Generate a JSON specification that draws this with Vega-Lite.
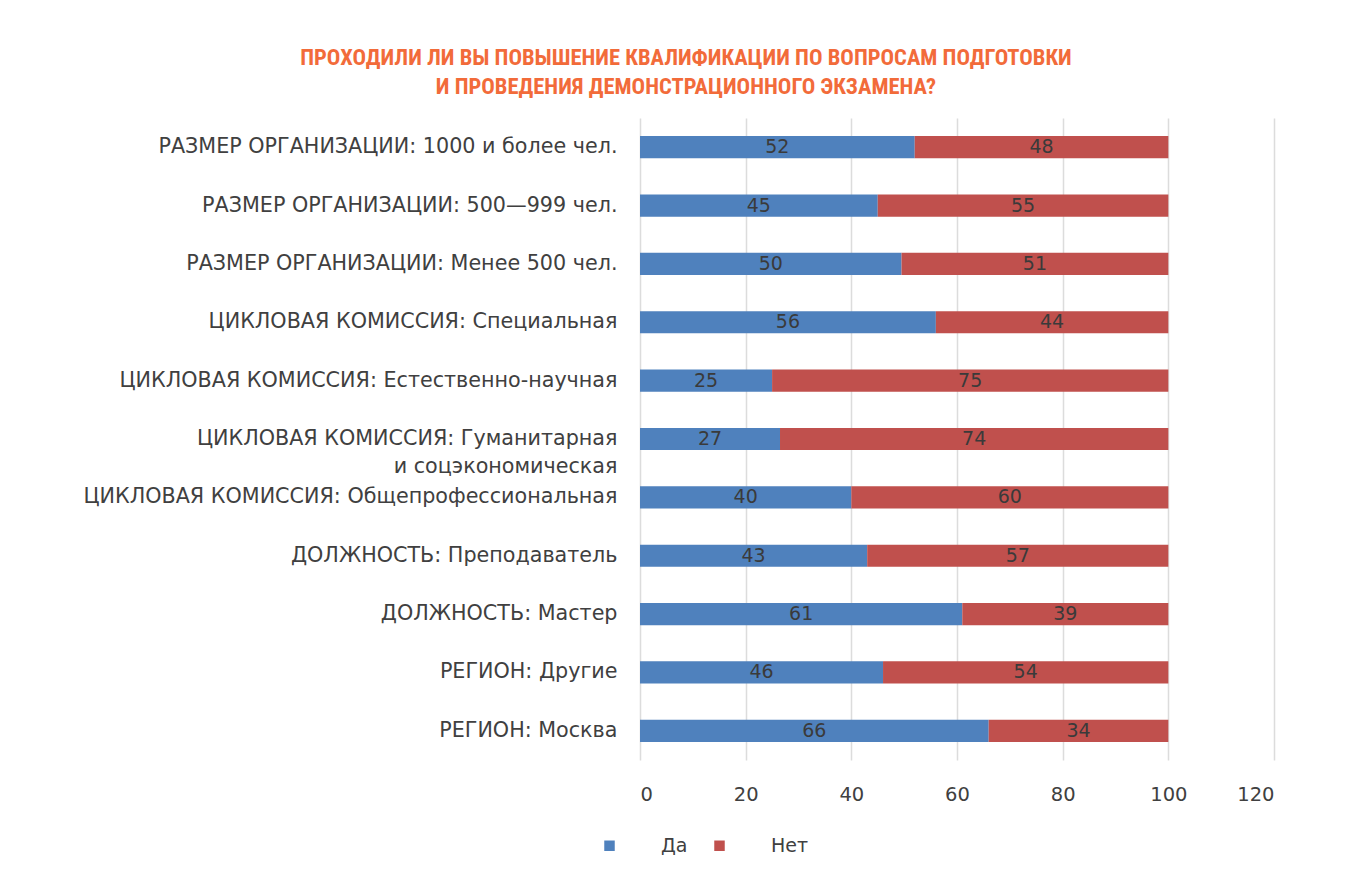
{
  "$schema": "https://vega.github.io/schema/vega-lite/v6.json",
  "autosize": "none",
  "width": 634,
  "height": 642,
  "padding": {"left": 640, "top": 118, "right": 73, "bottom": 126},
  "background": "white",
  "title": {
    "text": ["ПРОХОДИЛИ ЛИ ВЫ ПОВЫШЕНИЕ КВАЛИФИКАЦИИ ПО ВОПРОСАМ ПОДГОТОВКИ", "И ПРОВЕДЕНИЯ ДЕМОНСТРАЦИОННОГО ЭКЗАМЕНА?"],
    "font": "Roboto Condensed, Liberation Sans Narrow, Roboto",
    "fontSize": 22.5,
    "fontWeight": "bold",
    "color": "#F26B3A",
    "lineHeight": 29,
    "anchor": "middle",
    "frame": "group",
    "dx": -271,
    "offset": 20
  },
  "data": {
    "values": [
      {"cat": "РАЗМЕР ОРГАНИЗАЦИИ: 1000 и более чел.", "answer": "Да", "ord": 1, "value": 52},
      {"cat": "РАЗМЕР ОРГАНИЗАЦИИ: 1000 и более чел.", "answer": "Нет", "ord": 2, "value": 48},
      {"cat": "РАЗМЕР ОРГАНИЗАЦИИ: 500—999 чел.", "answer": "Да", "ord": 1, "value": 45},
      {"cat": "РАЗМЕР ОРГАНИЗАЦИИ: 500—999 чел.", "answer": "Нет", "ord": 2, "value": 55},
      {"cat": "РАЗМЕР ОРГАНИЗАЦИИ: Менее 500 чел.", "answer": "Да", "ord": 1, "value": 49.5},
      {"cat": "РАЗМЕР ОРГАНИЗАЦИИ: Менее 500 чел.", "answer": "Нет", "ord": 2, "value": 50.5},
      {"cat": "ЦИКЛОВАЯ КОМИССИЯ: Специальная", "answer": "Да", "ord": 1, "value": 56},
      {"cat": "ЦИКЛОВАЯ КОМИССИЯ: Специальная", "answer": "Нет", "ord": 2, "value": 44},
      {"cat": "ЦИКЛОВАЯ КОМИССИЯ: Естественно-научная", "answer": "Да", "ord": 1, "value": 25},
      {"cat": "ЦИКЛОВАЯ КОМИССИЯ: Естественно-научная", "answer": "Нет", "ord": 2, "value": 75},
      {"cat": "ЦИКЛОВАЯ КОМИССИЯ: Гуманитарная и соцэкономическая", "answer": "Да", "ord": 1, "value": 26.5},
      {"cat": "ЦИКЛОВАЯ КОМИССИЯ: Гуманитарная и соцэкономическая", "answer": "Нет", "ord": 2, "value": 73.5},
      {"cat": "ЦИКЛОВАЯ КОМИССИЯ: Общепрофессиональная", "answer": "Да", "ord": 1, "value": 40},
      {"cat": "ЦИКЛОВАЯ КОМИССИЯ: Общепрофессиональная", "answer": "Нет", "ord": 2, "value": 60},
      {"cat": "ДОЛЖНОСТЬ: Преподаватель", "answer": "Да", "ord": 1, "value": 43},
      {"cat": "ДОЛЖНОСТЬ: Преподаватель", "answer": "Нет", "ord": 2, "value": 57},
      {"cat": "ДОЛЖНОСТЬ: Мастер", "answer": "Да", "ord": 1, "value": 61},
      {"cat": "ДОЛЖНОСТЬ: Мастер", "answer": "Нет", "ord": 2, "value": 39},
      {"cat": "РЕГИОН: Другие", "answer": "Да", "ord": 1, "value": 46},
      {"cat": "РЕГИОН: Другие", "answer": "Нет", "ord": 2, "value": 54},
      {"cat": "РЕГИОН: Москва", "answer": "Да", "ord": 1, "value": 66},
      {"cat": "РЕГИОН: Москва", "answer": "Нет", "ord": 2, "value": 34}
    ]
  },
  "encoding": {
    "y": {
      "field": "cat",
      "type": "nominal",
      "sort": null,
      "scale": {"paddingInner": 0.62, "paddingOuter": 0.31},
      "axis": {
        "title": null,
        "domain": false,
        "ticks": false,
        "grid": false,
        "labelPadding": 23,
        "labelLimit": 700,
        "labelFont": "DejaVu Sans",
        "labelFontSize": 20.7,
        "labelColor": "#404040",
        "labelLineHeight": 28,
        "labelExpr": "indexof(datum.value, 'Гуманитарная') >= 0 ? ['ЦИКЛОВАЯ КОМИССИЯ: Гуманитарная', 'и соцэкономическая'] : datum.value"
      }
    }
  },
  "layer": [
    {
      "mark": {"type": "bar"},
      "encoding": {
        "x": {
          "field": "value",
          "type": "quantitative",
          "stack": "zero",
          "scale": {"domain": [0, 120], "nice": false},
          "axis": {
            "title": null,
            "domain": false,
            "ticks": false,
            "values": [0, 20, 40, 60, 80, 100, 120],
            "grid": true,
            "gridColor": "#DCDCDC",
            "gridWidth": 1.5,
            "labelFont": "DejaVu Sans",
            "labelFontSize": 19.5,
            "labelColor": "#404040",
            "labelPadding": 25
          }
        },
        "order": {"field": "ord", "type": "quantitative"},
        "color": {
          "field": "answer",
          "type": "nominal",
          "scale": {"domain": ["Да", "Нет"], "range": ["#4F81BD", "#C0504D"]},
          "legend": {
            "title": null,
            "orient": "none",
            "direction": "horizontal",
            "legendX": -40,
            "legendY": 718,
            "symbolType": "square",
            "symbolSize": 110,
            "symbolStrokeWidth": 0,
            "labelFont": "DejaVu Sans",
            "labelFontSize": 19,
            "labelColor": "#404040",
            "labelOffset": 42,
            "columnPadding": 22
          }
        }
      }
    },
    {
      "mark": {"type": "text", "font": "DejaVu Sans", "fontSize": 19, "color": "#3A3A3A"},
      "encoding": {
        "x": {"field": "value", "type": "quantitative", "stack": "zero", "bandPosition": 0.5},
        "order": {"field": "ord", "type": "quantitative"},
        "detail": {"field": "answer"},
        "text": {"field": "value", "type": "quantitative", "format": ".0f"}
      }
    }
  ],
  "config": {
    "view": {"stroke": null}
  }
}
